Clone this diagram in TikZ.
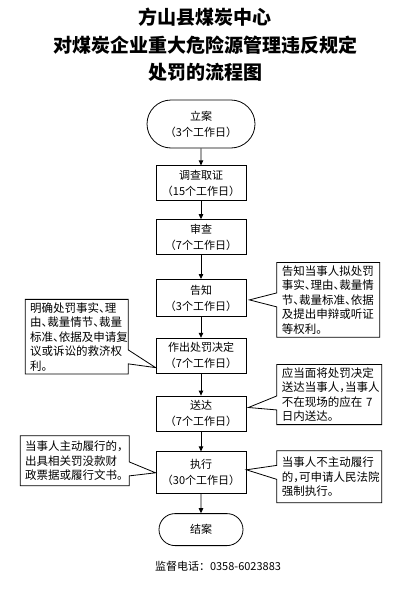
\documentclass[tikz,border=0pt]{standalone}
\usepackage{fontspec}
\setmainfont{Noto Sans CJK SC}
\newfontfamily\notefont[RawFeature=+halt]{Noto Sans CJK SC}
\usetikzlibrary{positioning,arrows.meta,shapes.misc,shapes.callouts}

\begin{document}
\begin{tikzpicture}[
    x=1pt, y=1pt,
    box/.style={draw, line width=0.8pt, minimum width=90pt, minimum height=35pt, align=center, inner sep=2pt, font=\fontsize{11}{16}\selectfont},
    term/.style={draw, line width=0.8pt, rounded rectangle, minimum width=112pt, minimum height=48pt, align=center, inner sep=2pt, font=\fontsize{11}{16}\selectfont},
    note/.style={draw, line width=0.8pt, rectangle callout, callout pointer width=14pt, align=left, inner xsep=5pt, inner ysep=3pt, text width=93pt, font=\notefont\fontsize{11.5}{14.5}\selectfont},
    arr/.style={-{Triangle[length=5pt, width=4.5pt]}, line width=0.8pt},
    node distance=18pt
]
\useasboundingbox (0,0) rectangle (410,-589);

\node[align=center, font=\fontsize{19}{27.5}\bfseries\selectfont] (title) at (205,-45)
{方山县煤炭中心\\对煤炭企业重大危险源管理违反规定\\处罚的流程图};

\node[term] (lian) at (201,-124) {立案\\（3个工作日）};
\node[box, below=17pt of lian] (diaocha) {调查取证\\（15个工作日）};
\node[box, below=18pt of diaocha] (shencha) {审查\\（7个工作日）};
\node[box, below=24pt of shencha, minimum height=37pt] (gaozhi) {告知\\（3个工作日）};
\node[box, below=21pt of gaozhi] (zuochu) {作出处罚决定\\（7个工作日）};
\node[box, below=22pt of zuochu] (songda) {送达\\（7个工作日）};
\node[box, below=20pt of songda, minimum height=42pt] (zhixing) {执行\\（30个工作日）};
\node[term, below=19pt of zhixing, minimum width=88pt, minimum height=32pt] (jiean) {结案};

\draw[arr] (lian) -- (diaocha);
\draw[arr] (diaocha) -- (shencha);
\draw[arr] (shencha) -- (gaozhi);
\draw[arr] (gaozhi) -- (zuochu);
\draw[arr] (zuochu) -- (songda);
\draw[arr] (songda) -- (zhixing);
\draw[arr] (zhixing) -- (jiean);

% side notes
\node[note, right=30pt of gaozhi, yshift=-2pt, minimum height=74pt, callout absolute pointer={([xshift=3pt,yshift=-2pt]gaozhi.east)}] (notegz)
{告知当事人拟处罚\\事实、理由、裁量情\\节、裁量标准、依据\\及提出申辩或听证\\等权利。};
\node[note, left=27pt of zuochu, yshift=19pt, minimum height=70pt, callout absolute pointer={([yshift=6pt]zuochu.south west)}] (notezc)
{明确处罚事实、理\\由、裁量情节、裁量\\标准、依据及申请复\\议或诉讼的救济权\\利。};
\node[note, right=30pt of songda, yshift=19pt, text width=95pt, minimum height=60pt, callout absolute pointer={([xshift=2pt,yshift=6pt]songda.east)}] (notesd)
{应当面将处罚决定\\送达当事人，当事人\\不在现场的应在 7\\日内送达。};
\node[note, left=26pt of zhixing, yshift=12pt, text width=99pt, minimum height=50pt, callout absolute pointer={(zhixing.west)}] (notezx1)
{当事人主动履行的，\\出具相关罚没款财\\政票据或履行文书。};
\node[note, right=30pt of zhixing, yshift=-4pt, text width=95pt, minimum height=52pt, callout absolute pointer={([yshift=3pt]zhixing.east)}] (notezx2)
{当事人不主动履行\\的，可申请人民法院\\强制执行。};

\node[font=\fontsize{11}{13}\selectfont] (phone) at (218,-566) {监督电话：0358-6023883};

\end{tikzpicture}
\end{document}
